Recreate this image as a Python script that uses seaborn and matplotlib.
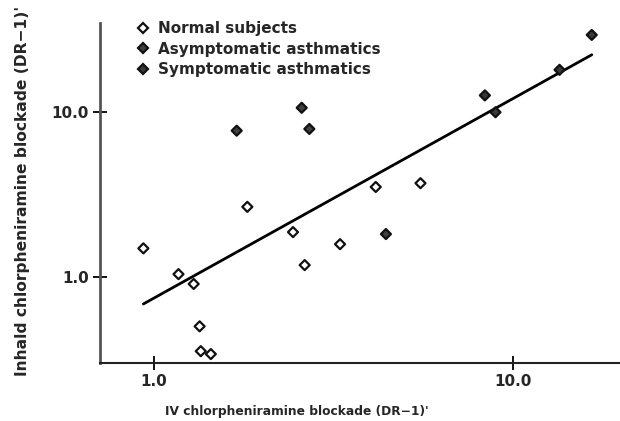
import matplotlib
matplotlib.use("Agg")
import matplotlib.pyplot as plt
import seaborn as sns
import pandas as pd
from matplotlib.lines import Line2D

# ---- data ----
normal_x = [0.934, 1.17, 1.29, 1.34, 1.35, 1.44, 1.82, 2.44, 2.63, 3.30, 4.15, 5.53]
normal_y = [1.49, 1.04, 0.907, 0.502, 0.355, 0.341, 2.66, 1.87, 1.18, 1.58, 3.51, 3.70]
asym_x = [1.70, 2.58, 2.71, 4.43]
asym_y = [7.70, 10.6, 7.89, 1.82]
sym_x = [8.36, 8.95, 13.5, 16.6]
sym_y = [12.6, 9.96, 18.0, 29.3]
fit_x = [0.934, 16.6]
fit_y = [0.686, 22.2]
groups = ["Normal subjects", "Asymptomatic asthmatics", "Symptomatic asthmatics"]
xticks = [1.0, 10.0]
yticks = [1.0, 10.0]
xlabel = "IV chlorpheniramine blockade (DR\u22121)'"
ylabel = "Inhald chlorpheniramine blockade (DR\u22121)'"

df = pd.DataFrame({
    "x": normal_x + asym_x + sym_x,
    "y": normal_y + asym_y + sym_y,
    "group": [groups[0]] * len(normal_x) + [groups[1]] * len(asym_x) + [groups[2]] * len(sym_x),
})

sns.set_theme(style="white")
plt.rcParams["font.family"] = ["DejaVu Sans"]
plt.rcParams["font.weight"] = "bold"

fig = plt.figure(figsize=(6.2, 4.21), dpi=100)
ax = fig.add_axes([100 / 620, 58 / 421, 520 / 620, 340 / 421])

palette = {groups[0]: "white", groups[1]: "#404040", groups[2]: "#383838"}
markers = {g: "D" for g in groups}

sns.lineplot(x=fit_x, y=fit_y, color="black", linewidth=2.0, ax=ax, zorder=2)
sns.scatterplot(data=df, x="x", y="y", hue="group", style="group", palette=palette,
                markers=markers, s=26, edgecolor="#111111", linewidth=1.6, ax=ax,
                legend=False, zorder=3)

ax.set_xscale("log")
ax.set_yscale("log")
ax.set_xlim(0.707, 19.9)
ax.set_ylim(0.301, 34.6)
ax.set_xticks(xticks)
ax.set_yticks(yticks)
ax.set_xticklabels([f"{v:.1f}" for v in xticks])
ax.set_yticklabels([f"{v:.1f}" for v in yticks])
ax.minorticks_off()
ax.tick_params(axis="both", which="major", direction="inout", length=10, width=1.3,
               color="black", labelsize=11, pad=3, left=True, bottom=True)
for lab in ax.get_xticklabels() + ax.get_yticklabels():
    lab.set_fontweight("bold")

for side in ["top", "right"]:
    ax.spines[side].set_visible(False)
ax.spines["left"].set_color("#555555")
ax.spines["left"].set_linewidth(2.0)
ax.spines["bottom"].set_color("#222222")
ax.spines["bottom"].set_linewidth(1.5)

ax.set_xlabel(xlabel, fontsize=8.8, fontweight="bold")
ax.set_ylabel(ylabel, fontsize=11.2, fontweight="bold")
ax.xaxis.set_label_coords(0.378, -0.123)
ax.yaxis.set_label_coords(-0.134, 0.506)

handles = [Line2D([0], [0], marker="D", linestyle="none", markersize=5,
                  markerfacecolor=palette[g], markeredgecolor="#111111",
                  markeredgewidth=1.6) for g in groups]
leg = ax.legend(handles, groups, loc="upper left", bbox_to_anchor=(0.06, 1.024),
                frameon=False, fontsize=11, handlelength=0.8, handletextpad=0.55,
                labelspacing=0.37, borderaxespad=0)
for t in leg.get_texts():
    t.set_fontweight("bold")

fig.savefig("out.png", dpi=100)
